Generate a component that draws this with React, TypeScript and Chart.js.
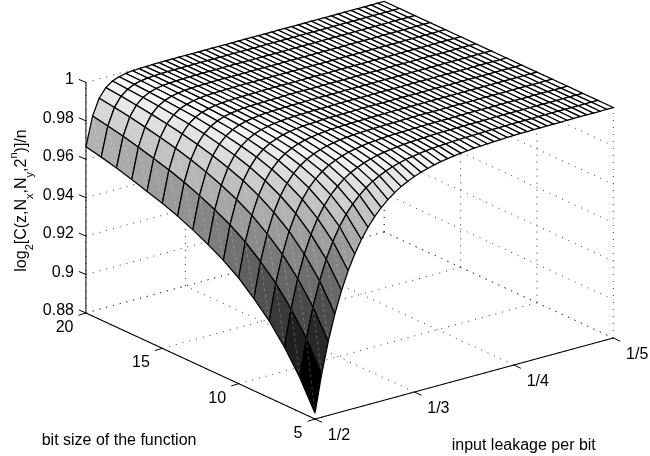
import React, { useEffect, useRef } from "react";
import { Chart, registerables } from "chart.js";

Chart.register(...registerables);

const kGrid = [
  2, 2.0667, 2.1333, 2.2, 2.2667, 2.3333, 2.4, 2.4667, 2.5333, 2.6,
  2.6667, 2.7333, 2.8, 2.8667, 2.9333, 3, 3.0667, 3.1333, 3.2, 3.2667,
  3.3333, 3.4, 3.4667, 3.5333, 3.6, 3.6667, 3.7333, 3.8, 3.8667, 3.9333,
  4, 4.0667, 4.1333, 4.2, 4.2667, 4.3333, 4.4, 4.4667, 4.5333, 4.6,
  4.6667, 4.7333, 4.8, 4.8667, 4.9333, 5,
];
const nGrid = [5, 6, 7, 8, 9, 10, 11, 12, 13, 14, 15, 16, 17, 18, 19, 20];

const zN5 = [
  .8830, .9023, .9184, .9319, .9431, .9525, .9603, .9669, .9723, .9769,
  .9807, .9839, .9866, .9888, .9906, .9922, .9935, .9945, .9954, .9962,
  .9968, .9973, .9978, .9981, .9985, .9987, .9989, .9991, .9992, .9994,
  .9995, .9996, .9996, .9997, .9997, .9998, .9998, .9998, .9999, .9999,
  .9999, .9999, .9999, .9999, 1, 1,
];
const zN6 = [
  .8980, .9172, .9327, .9454, .9557, .9640, .9708, .9763, .9807, .9843,
  .9873, .9897, .9916, .9932, .9945, .9955, .9964, .9970, .9976, .9981,
  .9984, .9987, .9989, .9991, .9993, .9994, .9995, .9996, .9997, .9998,
  .9998, .9998, .9999, .9999, .9999, .9999, 1, 1, 1, 1,
  1, 1, 1, 1, 1, 1,
];
const zN7 = [
  .9100, .9289, .9438, .9556, .9649, .9723, .9781, .9827, .9863, .9892,
  .9915, .9933, .9947, .9958, .9967, .9974, .9979, .9983, .9987, .9990,
  .9992, .9993, .9995, .9996, .9997, .9997, .9998, .9998, .9999, .9999,
  .9999, .9999, 1, 1, 1, 1, 1, 1, 1, 1,
  1, 1, 1, 1, 1, 1,
];
const zN8 = [
  .9200, .9386, .9528, .9638, .9722, .9786, .9836, .9874, .9903, .9926,
  .9943, .9956, .9966, .9974, .9980, .9985, .9988, .9991, .9993, .9995,
  .9996, .9997, .9997, .9998, .9998, .9999, .9999, .9999, 1, 1,
  1, 1, 1, 1, 1, 1, 1, 1, 1, 1,
  1, 1, 1, 1, 1, 1,
];
const zN9 = [
  .9280, .9462, .9598, .9700, .9776, .9833, .9875, .9907, .9930, .9948,
  .9961, .9971, .9978, .9984, .9988, .9991, .9993, .9995, .9996, .9997,
  .9998, .9998, .9999, .9999, .9999, 1, 1, 1, 1, 1,
  1, 1, 1, 1, 1, 1, 1, 1, 1, 1,
  1, 1, 1, 1, 1, 1,
];
const zN10 = [
  .9350, .9528, .9657, .9751, .9819, .9869, .9905, .9931, .9950, .9964,
  .9974, .9981, .9986, .9990, .9993, .9995, .9996, .9997, .9998, .9998,
  .9999, .9999, .9999, 1, 1, 1, 1, 1, 1, 1,
  1, 1, 1, 1, 1, 1, 1, 1, 1, 1,
  1, 1, 1, 1, 1, 1,
];
const zN11 = [
  .9405, .9580, .9703, .9791, .9852, .9896, .9926, .9948, .9963, .9974,
  .9982, .9987, .9991, .9994, .9995, .9997, .9998, .9998, .9999, .9999,
  .9999, 1, 1, 1, 1, 1, 1, 1, 1, 1,
  1, 1, 1, 1, 1, 1, 1, 1, 1, 1,
  1, 1, 1, 1, 1, 1,
];
const zN12 = [
  .9450, .9622, .9740, .9822, .9878, .9916, .9942, .9960, .9973, .9981,
  .9987, .9991, .9994, .9996, .9997, .9998, .9999, .9999, .9999, 1,
  1, 1, 1, 1, 1, 1, 1, 1, 1, 1,
  1, 1, 1, 1, 1, 1, 1, 1, 1, 1,
  1, 1, 1, 1, 1, 1,
];
const zN13 = [
  .9490, .9659, .9772, .9848, .9898, .9932, .9955, .9970, .9980, .9986,
  .9991, .9994, .9996, .9997, .9998, .9999, .9999, .9999, 1, 1,
  1, 1, 1, 1, 1, 1, 1, 1, 1, 1,
  1, 1, 1, 1, 1, 1, 1, 1, 1, 1,
  1, 1, 1, 1, 1, 1,
];
const zN14 = [
  .9525, .9692, .9800, .9870, .9916, .9945, .9964, .9977, .9985, .9990,
  .9994, .9996, .9997, .9998, .9999, .9999, 1, 1, 1, 1,
  1, 1, 1, 1, 1, 1, 1, 1, 1, 1,
  1, 1, 1, 1, 1, 1, 1, 1, 1, 1,
  1, 1, 1, 1, 1, 1,
];
const zN15 = [
  .9555, .9719, .9823, .9888, .9930, .9956, .9972, .9982, .9989, .9993,
  .9996, .9997, .9998, .9999, .9999, 1, 1, 1, 1, 1,
  1, 1, 1, 1, 1, 1, 1, 1, 1, 1,
  1, 1, 1, 1, 1, 1, 1, 1, 1, 1,
  1, 1, 1, 1, 1, 1,
];
const zN16 = [
  .9580, .9742, .9842, .9903, .9940, .9963, .9977, .9986, .9992, .9995,
  .9997, .9998, .9999, .9999, 1, 1, 1, 1, 1, 1,
  1, 1, 1, 1, 1, 1, 1, 1, 1, 1,
  1, 1, 1, 1, 1, 1, 1, 1, 1, 1,
  1, 1, 1, 1, 1, 1,
];
const zN17 = [
  .9605, .9764, .9859, .9916, .9950, .9970, .9982, .9989, .9994, .9996,
  .9998, .9999, .9999, 1, 1, 1, 1, 1, 1, 1,
  1, 1, 1, 1, 1, 1, 1, 1, 1, 1,
  1, 1, 1, 1, 1, 1, 1, 1, 1, 1,
  1, 1, 1, 1, 1, 1,
];
const zN18 = [
  .9628, .9784, .9875, .9927, .9958, .9975, .9986, .9992, .9995, .9997,
  .9998, .9999, .9999, 1, 1, 1, 1, 1, 1, 1,
  1, 1, 1, 1, 1, 1, 1, 1, 1, 1,
  1, 1, 1, 1, 1, 1, 1, 1, 1, 1,
  1, 1, 1, 1, 1, 1,
];
const zN19 = [
  .9648, .9801, .9888, .9937, .9964, .9980, .9989, .9994, .9996, .9998,
  .9999, .9999, 1, 1, 1, 1, 1, 1, 1, 1,
  1, 1, 1, 1, 1, 1, 1, 1, 1, 1,
  1, 1, 1, 1, 1, 1, 1, 1, 1, 1,
  1, 1, 1, 1, 1, 1,
];
const zN20 = [
  .9665, .9816, .9899, .9945, .9970, .9983, .9991, .9995, .9997, .9998,
  .9999, 1, 1, 1, 1, 1, 1, 1, 1, 1,
  1, 1, 1, 1, 1, 1, 1, 1, 1, 1,
  1, 1, 1, 1, 1, 1, 1, 1, 1, 1,
  1, 1, 1, 1, 1, 1,
];
const surface = [zN5, zN6, zN7, zN8, zN9, zN10, zN11, zN12, zN13, zN14, zN15, zN16, zN17, zN18, zN19, zN20];

const zTicks = [0.88, 0.9, 0.92, 0.94, 0.96, 0.98, 1];
const zTickLabels = ["0.88", "0.9", "0.92", "0.94", "0.96", "0.98", "1"];
const nTicks = [5, 10, 15, 20];
const nTickLabels = ["5", "10", "15", "20"];
const kTicks = [2, 3, 4, 5];
const kTickLabels = ["1/2", "1/3", "1/4", "1/5"];

const FONT = '"Liberation Sans", Arial, sans-serif';

// oblique view of the (k, n, z) box
function project(k: number, n: number, z: number) {
  return {
    x: 315 + (k - 2) * 99.43 - (n - 5) * 15.27,
    y: 419 - (k - 2) * 27 - (n - 5) * 7.07 - (z - 0.88) * 1921,
  };
}

function gray(z: number) {
  const t = (z - 0.883) / (1 - 0.883);
  const v = Math.round((Math.min(63, Math.floor(t * 64)) / 63) * 255);
  return `rgb(${v},${v},${v})`;
}

function segment(pts: { x: number; y: number }[], color: string, width: number, dash: number[] = []) {
  return {
    data: pts,
    showLine: true,
    fill: false,
    borderColor: color,
    borderWidth: width,
    borderDash: dash,
    pointRadius: 0,
    tension: 0,
  };
}

function buildDatasets() {
  const out: any[] = [];
  const zMin = zTicks[0];
  const zMax = zTicks[zTicks.length - 1];
  const kMin = kTicks[0];
  const kMax = kTicks[kTicks.length - 1];
  const nMin = nTicks[0];
  const nMax = nTicks[nTicks.length - 1];

  // axes and tick marks (drawn last)
  out.push(segment([project(kMin, nMin, zMin), project(kMax, nMin, zMin)], "#000", 1.1));
  out.push(segment([project(kMin, nMin, zMin), project(kMin, nMax, zMin)], "#000", 1.1));
  out.push(segment([project(kMin, nMax, zMin), project(kMin, nMax, zMax)], "#000", 1));
  for (const z of zTicks) {
    const p = project(kMin, nMax, z);
    out.push(segment([p, { x: p.x - 7, y: p.y - 3 }], "#000", 1));
  }
  for (const n of nTicks) {
    const p = project(kMin, n, zMin);
    out.push(segment([p, { x: p.x - 7.4, y: p.y + 2.3 }], "#000", 1));
  }
  for (const k of kTicks) {
    const p = project(k, nMin, zMin);
    out.push(segment([p, { x: p.x + 7, y: p.y + 3.3 }], "#000", 1));
  }

  // surface, front to back so that the back is painted first
  for (let i = 0; i < nGrid.length - 1; i++) {
    for (let j = 0; j < kGrid.length - 1; j++) {
      const a = project(kGrid[j], nGrid[i], surface[i][j]);
      const b = project(kGrid[j + 1], nGrid[i], surface[i][j + 1]);
      const c = project(kGrid[j + 1], nGrid[i + 1], surface[i + 1][j + 1]);
      const d = project(kGrid[j], nGrid[i + 1], surface[i + 1][j]);
      if (surface[i][j] < 0.995) {
        out.push(segment([a, c], "rgba(255,255,255,0.3)", 0.8, [3, 3]));
      }
      out.push({
        ...segment([a, b, c, d, a], "#000", 1.25),
        fill: "shape",
        backgroundColor: gray(surface[i][j]),
      });
    }
  }

  // dotted grid on floor and walls (drawn first)
  const dots = [1, 6];
  const dotColor = "#333";
  for (const n of nTicks) {
    out.push(segment([project(kMin, n, zMin), project(kMax, n, zMin)], dotColor, 1, dots));
    out.push(segment([project(kMax, n, zMin), project(kMax, n, zMax)], dotColor, 1, dots));
  }
  for (const k of kTicks) {
    out.push(segment([project(k, nMin, zMin), project(k, nMax, zMin)], dotColor, 1, dots));
    out.push(segment([project(k, nMax, zMin), project(k, nMax, zMax)], dotColor, 1, dots));
  }
  for (const z of zTicks) {
    out.push(segment([project(kMin, nMax, z), project(kMax, nMax, z)], dotColor, 1, dots));
    out.push(segment([project(kMax, nMax, z), project(kMax, nMin, z)], dotColor, 1, dots));
  }
  return out;
}

const labelsPlugin = {
  id: "boxLabels",
  afterDraw(chart: any) {
    const ctx = chart.ctx as CanvasRenderingContext2D;
    ctx.save();
    ctx.fillStyle = "#000";
    ctx.textBaseline = "alphabetic";
    ctx.font = `16px ${FONT}`;

    ctx.textAlign = "right";
    zTicks.forEach((z, i) => {
      const p = project(kTicks[0], nTicks[3], z);
      ctx.fillText(zTickLabels[i], 74, p.y + 2);
    });
    nTicks.forEach((n, i) => {
      const p = project(kTicks[0], n, zTicks[0]);
      ctx.fillText(nTickLabels[i], p.x - 12.5, p.y + 19);
    });
    ctx.textAlign = "left";
    kTicks.forEach((k, i) => {
      const p = project(k, nTicks[0], zTicks[0]);
      ctx.fillText(kTickLabels[i], p.x + 12.8, p.y + 21);
    });
    ctx.fillText("bit size of the function", 41.7, 444.7);
    ctx.fillText("input leakage per bit", 451.7, 449.7);

    // rotated z label with sub- and superscripts
    ctx.translate(25.7, 271.7);
    ctx.rotate(-Math.PI / 2);
    const parts: [string, number, number][] = [
      ["log", 16, 0],
      ["2", 11, 7],
      ["[C(z,N", 16, 0],
      ["x", 11, 7],
      [",N", 16, 0],
      ["y", 11, 7],
      [",2", 16, 0],
      ["n", 11, -9],
      [")]/n", 16, 0],
    ];
    let at = 0;
    for (const [text, size, shift] of parts) {
      ctx.font = `${size}px ${FONT}`;
      ctx.fillText(text, at, shift);
      at += ctx.measureText(text).width;
    }
    ctx.restore();
  },
};

export default function App() {
  const ref = useRef<HTMLCanvasElement>(null);
  useEffect(() => {
    const chart = new Chart(ref.current as HTMLCanvasElement, {
      type: "scatter",
      data: { datasets: buildDatasets() },
      options: {
        animation: false,
        responsive: false,
        events: [],
        layout: { padding: 0 },
        plugins: { legend: { display: false }, tooltip: { enabled: false } },
        scales: {
          x: { type: "linear", display: false, min: 0, max: 650 },
          y: { type: "linear", display: false, min: 0, max: 456, reverse: true },
        },
      },
      plugins: [labelsPlugin],
    } as any);
    return () => chart.destroy();
  }, []);
  return (
    <div style={{ position: "absolute", left: 0, top: 0, width: 650, height: 456, background: "#fff" }}>
      <canvas ref={ref} width={650} height={456} style={{ display: "block" }} />
    </div>
  );
}
